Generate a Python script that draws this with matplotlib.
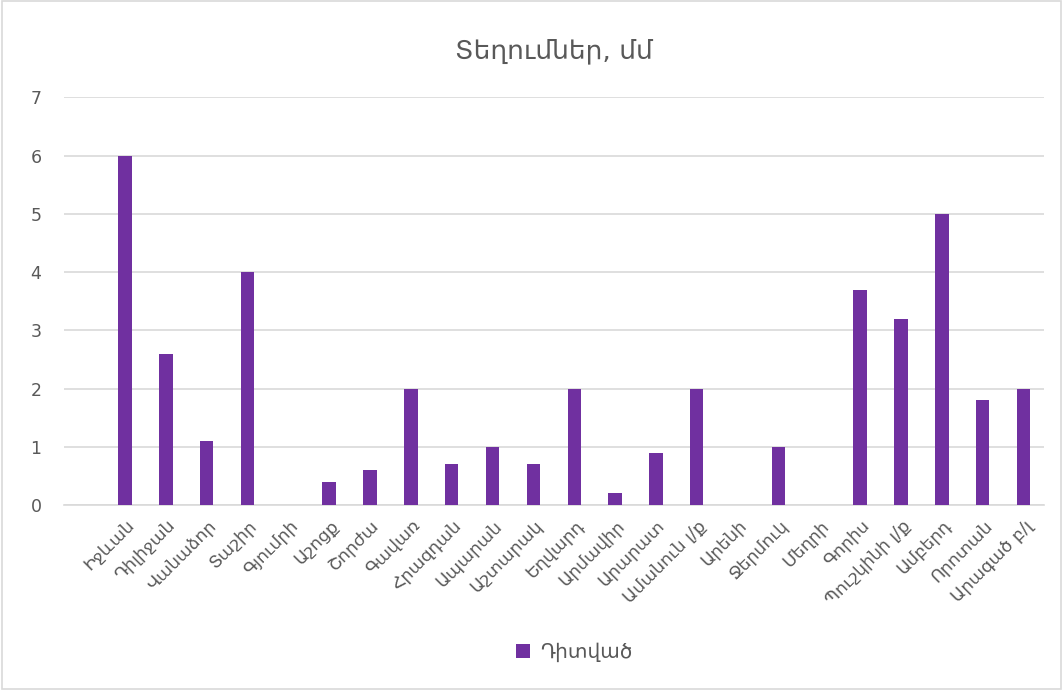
import matplotlib.pyplot as plt
from matplotlib.patches import Rectangle

stations = ['Իջևան', 'Դիլիջան', 'Վանաձոր', 'Տաշիր', 'Գյումրի', 'Աշոցք', 'Շորժա',
            'Գավառ', 'Հրազդան', 'Ապարան', 'Աշտարակ', 'Եղվարդ', 'Արմավիր', 'Արարատ',
            'Ամանուն լ/ք', 'Արենի', 'Ջերմուկ', 'Մեղրի', 'Գորիս', 'Պուշկինի լ/ք',
            'Ամբերդ', 'Որոտան', 'Արագած բ/լ']
observed = [6, 2.6, 1.1, 4, 0, 0.4, 0.6, 2, 0.7, 1, 0.7, 2, 0.2, 0.9,
            2, 0, 1, 0, 3.7, 3.2, 5, 1.8, 2]

purple = '#7030A0'
grey_text = '#595959'
grid_col = '#D9D9D9'

plt.rcParams['font.family'] = ['DejaVu Sans']

fig = plt.figure(figsize=(10.63, 6.9), dpi=100)
ax = fig.add_axes([0.060, 0.268, 0.922, 0.591])

x = list(range(len(stations)))
ax.bar(x, observed, width=0.33, color=purple, label='Դիտված', zorder=3)

ax.set_xlim(-1.5, len(stations) - 0.5)
ax.set_ylim(0, 7)
ax.set_yticks(range(0, 8))
ax.yaxis.grid(True, color=grid_col, linewidth=1.2, zorder=0)
ax.set_xticks(x)
ax.set_xticklabels(stations, rotation=45, ha='right', rotation_mode='anchor',
                   fontsize=12.5, color=grey_text)
ax.tick_params(axis='y', length=0, labelsize=12.5, labelcolor=grey_text, pad=16)
ax.tick_params(axis='x', length=0, pad=8)
for s in ['top', 'right', 'left']:
    ax.spines[s].set_visible(False)
ax.spines['bottom'].set_color(grid_col)
ax.spines['bottom'].set_linewidth(1.2)

ax.set_title('Տեղումներ, մմ', fontsize=19, color=grey_text, pad=28)

fig.legend(loc='center', bbox_to_anchor=(0.54, 0.055), frameon=False,
           fontsize=14.5, labelcolor=grey_text, handlelength=0.7, handleheight=0.7,
           handletextpad=0.5)

fig.patches.append(Rectangle((0.002, 0.002), 0.996, 0.996, transform=fig.transFigure,
                             fill=False, edgecolor=grid_col, linewidth=1.2))

fig.savefig('out.png', dpi=100)
